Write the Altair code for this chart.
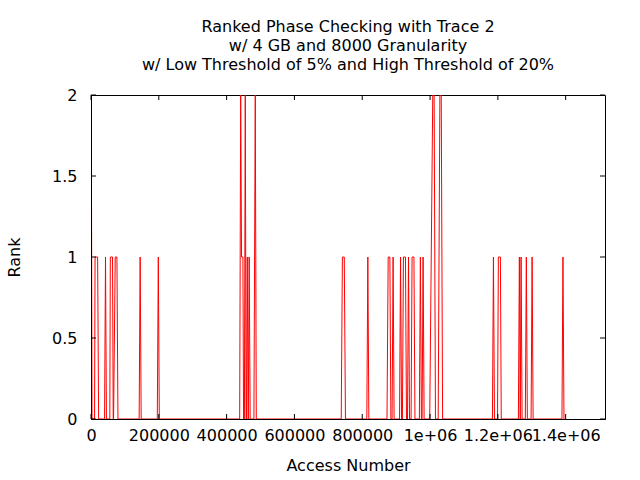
import altair as alt
import pandas as pd

# Data (access number, rank), one polyline
access = [0, 800, 3000,
          10500, 12000, 19500, 22500,
          40000, 42800, 45500,
          55500, 57000, 63500, 65500,
          66500, 71500, 76500, 79500,
          142000, 145000, 148000,
          195500, 198500, 201500,
          438500, 441500, 444000, 448000, 450000,
          452500, 455000, 457500,
          458500, 461000, 463500,
          464000, 466500, 469500,
          480500, 484500, 487500,
          738000, 741500, 747000, 750500,
          813500, 816500, 819500,
          873000, 876500, 881500, 884500,
          888000, 891000, 894000,
          910000, 913000, 916000,
          918500, 921500, 927500, 930500,
          933500, 936500, 939500,
          944000, 947000, 952500, 955500,
          968500, 971500, 974500,
          976500, 979500, 982500,
          999000, 1008000, 1012000, 1016000,
          1024000, 1029000, 1033000, 1037000,
          1184000, 1187000, 1190000,
          1199000, 1201500, 1207500, 1210000,
          1260500, 1263500, 1266000, 1268500, 1271500,
          1281000, 1284000, 1287000,
          1298000, 1301000, 1304000,
          1389000, 1392000, 1395000]
rank = [0, 2, 0,
        0, 1, 1, 0,
        0, 1, 0,
        0, 1, 1, 0,
        0, 1, 1, 0,
        0, 1, 0,
        0, 1, 0,
        0, 2, 1, 1, 0,
        0, 2, 0,
        0, 1, 0,
        0, 1, 0,
        0, 2, 0,
        0, 1, 1, 0,
        0, 1, 0,
        0, 1, 1, 0,
        0, 1, 0,
        0, 1, 0,
        0, 1, 1, 0,
        0, 1, 0,
        0, 1, 1, 0,
        0, 1, 0,
        0, 1, 0,
        0, 2, 2, 0,
        0, 2, 2, 0,
        0, 1, 0,
        0, 1, 1, 0,
        0, 1, 0, 1, 0,
        0, 1, 0,
        0, 1, 0,
        0, 1, 0]

x_ticks = [0, 200000, 400000, 600000, 800000, 1000000, 1200000, 1400000]
y_ticks = [0, 0.5, 1, 1.5, 2]
x_max = 1516000

W, H = 514, 324
FONT = "DejaVu Sans"
FS = 16

df = pd.DataFrame({"access": access, "rank": rank, "i": list(range(len(access)))})
xt = pd.DataFrame({"access": x_ticks})
yt = pd.DataFrame({"rank": y_ticks})

xscale = alt.Scale(domain=[0, x_max], nice=False, zero=False)
yscale = alt.Scale(domain=[0, 2], nice=False, zero=False)

x_axis = alt.Axis(values=x_ticks, ticks=False, grid=False, domain=True,
                  domainColor="black", zindex=1,
                  labelExpr="datum.value >= 1000000 ? (datum.value/1000000) + 'e+06' : datum.value + ''",
                  labelOverlap=False, labelFlush=False, labelPadding=8,
                  labelFontSize=FS, titleFontSize=FS, titleFontWeight="normal",
                  titlePadding=14, labelColor="black", titleColor="black")
y_axis = alt.Axis(values=y_ticks, ticks=False, grid=False, domain=True,
                  domainColor="black", zindex=1, labelPadding=14,
                  labelExpr="datum.value + ''",
                  labelFontSize=FS, titleFontSize=FS, titleFontWeight="normal",
                  titleX=-69, titleY=H / 2, titleBaseline="bottom", titleAngle=270,
                  labelColor="black", titleColor="black")

X = alt.X("access:Q", scale=xscale, title="Access Number", axis=x_axis)
Y = alt.Y("rank:Q", scale=yscale, title="Rank", axis=y_axis)

line = alt.Chart(df).mark_line(color="#ff0000", strokeWidth=1, clip=True).encode(
    x=X, y=Y, order="i:Q",
)

xb = alt.Chart(xt).mark_rule(color="black").encode(
    x=X, y=alt.value(H), y2=alt.value(H - 5))
xtop = alt.Chart(xt).mark_rule(color="black").encode(
    x=X, y=alt.value(0), y2=alt.value(5))
yl = alt.Chart(yt).mark_rule(color="black").encode(
    y=Y, x=alt.value(0), x2=alt.value(5))
yr = alt.Chart(yt).mark_rule(color="black").encode(
    y=Y, x=alt.value(W), x2=alt.value(W - 5))

chart = alt.layer(line, xb, xtop, yl, yr).properties(
    width=W, height=H,
    autosize=alt.AutoSizeParams(type="none"),
    padding={"left": 91, "top": 95, "right": 35, "bottom": 61},
    title=alt.TitleParams(
        text=["Ranked Phase Checking with Trace 2",
              "w/ 4 GB and 8000 Granularity",
              "w/ Low Threshold of 5% and High Threshold of 20%"],
        fontSize=FS, fontWeight="normal", anchor="middle", lineHeight=19,
        offset=14, color="black", font=FONT),
).configure(font=FONT).configure_view(stroke="black", strokeWidth=1)

chart.save("out.html", embed_options={"renderer": "svg", "actions": False})
